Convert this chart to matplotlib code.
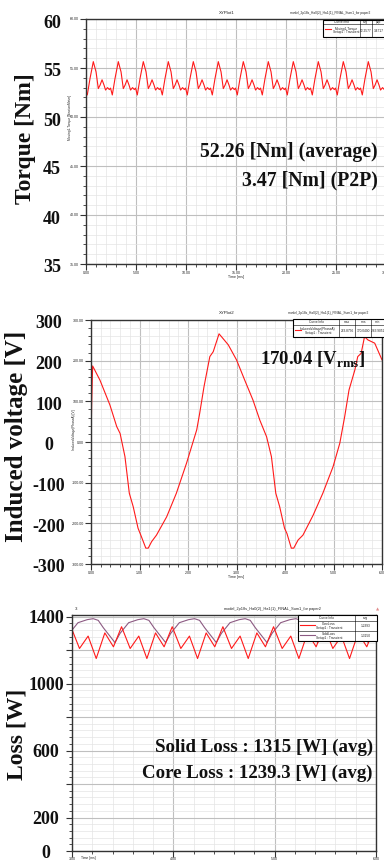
import numpy as np
import matplotlib
matplotlib.use('Agg')
import matplotlib.pyplot as plt
from matplotlib.ticker import MultipleLocator, FormatStrFormatter
from matplotlib.patches import Rectangle
from matplotlib.lines import Line2D

plt.rcParams['mathtext.fontset'] = 'custom'
plt.rcParams['mathtext.rm'] = 'Liberation Serif:bold'
plt.rcParams['mathtext.bf'] = 'Liberation Serif:bold'

#===============================================================================
#  Data
#===============================================================================
# XYPlot1 : torque ripple, one measured period, repeated every torque_T ms
torque_phase = [0.00, 0.11, 0.24, 0.35, 0.44, 0.51, 0.59, 0.67, 0.73, 0.81, 0.88, 0.93]
torque_period = [52.25, 53.95, 55.65, 54.6, 52.9, 53.25, 53.8, 53.25, 52.75, 53.0, 52.8, 52.95]
torque_first = 52.6
torque_T = 2.5
torque_t0 = 0.13
torque_cycles = 12
torque_yticks = [35, 40, 45, 50, 55, 60]
torque_xticks = [0, 5, 10, 15, 20, 25, 30]

# XYPlot2 : induced voltage (phase A)
volt_t = [0.0, 0.014, 0.034, 0.185, 0.39, 0.53, 0.60, 0.70, 0.79, 0.87, 0.97, 1.04, 1.13, 1.18,
          1.25, 1.35, 1.56, 1.76, 1.97, 2.18, 2.24, 2.33, 2.45, 2.52, 2.64, 2.69, 2.83, 3.0,
          3.17, 3.34, 3.48, 3.62, 3.72, 3.81, 3.89, 3.99, 4.04, 4.13, 4.18, 4.27, 4.37, 4.58,
          4.78, 4.99, 5.13, 5.23, 5.32, 5.44, 5.50, 5.57, 5.64, 5.71, 5.85, 6.0]
volt_v = [0, 95, 187, 152, 91, 38, 21, -36, -126, -159, -212, -233, -261, -261,
          -245, -229, -184, -126, -52, 30, 70, 136, 210, 222, 266, 259, 239, 202,
          152, 103, 54, 13, -36, -126, -159, -212, -225, -261, -261, -241, -229, -180,
          -126, -61, -3, 62, 128, 177, 210, 218, 259, 251, 243, 202]
volt_yticks = [-300, -200, -100, 0, 100, 200, 300]
volt_xticks = [0, 1, 2, 3, 4, 5, 6]

# Loss plot : solid loss and core loss, one measured period each (loss_T ms)
loss_T = 0.5
loss_t0 = 3.424
solid_phase = [0.00, 0.10, 0.27, 0.45, 0.57, 0.67, 0.77, 0.90]
solid_period = [1245, 1300, 1364, 1382, 1388, 1378, 1334, 1284]
core_phase = [-0.03, 0.13, 0.30, 0.47, 0.63, 0.80]
core_period = [1220, 1340, 1210, 1284, 1150, 1303]
loss_yticks = [0, 200, 400, 600, 800, 1000, 1200, 1400]
loss_ylabels = ['0', '200', '', '600', '', '1000', '', '1400']
loss_xticks = [3, 4, 5, 6]


def repeat_period(t0, T, phase, vals, cycles):
    t = (t0 + (np.arange(cycles)[:, None] + np.array(phase)[None, :]) * T).ravel()
    return t, np.tile(vals, cycles)


torque_t, torque_y = repeat_period(torque_t0, torque_T, torque_phase, torque_period, torque_cycles)
torque_t = np.concatenate([[0.0], torque_t])
torque_y = np.concatenate([[torque_first], torque_y])
solid_t, solid_y = repeat_period(loss_t0 - loss_T, loss_T, solid_phase, solid_period, 8)
core_t, core_y = repeat_period(loss_t0 - loss_T, loss_T, core_phase, core_period, 8)

RED = '#ff1a1a'
PURPLE = '#8c5a82'
BIG = dict(family='Liberation Serif', weight='bold', color='#111111')
TINY = dict(family='Liberation Sans', color='#222222')

#===============================================================================
#  Helpers
#===============================================================================
W, H = 384, 860
fig = plt.figure(figsize=(W / 100, H / 100), dpi=100)


def px_axes(x0, y0, x1, y1):
    return fig.add_axes([x0 / W, 1 - y1 / H, (x1 - x0) / W, (y1 - y0) / H])


def ansys_style(ax, xmaj, xmin, ymaj, ymin, fmt_x, fmt_y, show_y=True, xpad=1):
    ax.xaxis.set_major_locator(MultipleLocator(xmaj))
    ax.xaxis.set_minor_locator(MultipleLocator(xmin))
    ax.yaxis.set_major_locator(MultipleLocator(ymaj))
    ax.yaxis.set_minor_locator(MultipleLocator(ymin))
    ax.xaxis.set_major_formatter(FormatStrFormatter(fmt_x))
    ax.yaxis.set_major_formatter(FormatStrFormatter(fmt_y))
    ax.grid(which='major', color='#bfbfbf', lw=0.8)
    ax.grid(which='minor', color='#e4e4e4', lw=0.5)
    ax.set_axisbelow(True)
    ax.tick_params(which='major', direction='out', length=4, width=0.8, color='#333333',
                   labelsize=2.6, pad=1, labelleft=show_y, labelcolor='#222222')
    ax.tick_params(axis='x', which='major', pad=xpad)
    ax.tick_params(which='minor', direction='out', length=2, width=0.6, color='#333333')
    for s in ax.spines.values():
        s.set_color('#333333')
        s.set_linewidth(1.0)
    for lbl in ax.get_xticklabels() + ax.get_yticklabels():
        lbl.set_family('Liberation Sans')


def legend_box(ax, x0, x1, y0, y1, col_splits, row_splits, texts, lines):
    ax.add_patch(Rectangle((x0, y0), x1 - x0, y1 - y0, transform=ax.transAxes,
                           facecolor='white', edgecolor='black', lw=0.8, clip_on=False, zorder=5))
    for c in col_splits:
        ax.add_line(Line2D([c, c], [y0, y1], transform=ax.transAxes, color='black', lw=0.4,
                           clip_on=False, zorder=6))
    for r in row_splits:
        ax.add_line(Line2D([x0, x1], [r, r], transform=ax.transAxes, color='black', lw=0.4,
                           clip_on=False, zorder=6))
    for x, y, s in texts:
        ax.text(x, y, s, transform=ax.transAxes, fontsize=2.3, ha='center', va='center',
                zorder=7, linespacing=0.9, **TINY)
    for xa, xb, y, c in lines:
        ax.add_line(Line2D([xa, xb], [y, y], transform=ax.transAxes, color=c, lw=0.8,
                           clip_on=False, zorder=7))


def big_ticks(ax, values, labels, dx, dy=-4):
    for v, s in zip(values, labels):
        if s:
            ax.annotate(s, xy=(0, v), xycoords=('axes fraction', 'data'), xytext=(dx, dy),
                        textcoords='offset pixels', ha='center', va='center', fontsize=13,
                        annotation_clip=False, **BIG)


#===============================================================================
#  Torque
#===============================================================================
ax1 = px_axes(86, 19, 386, 264)
ax1.plot(torque_t, torque_y, color=RED, lw=0.8)
ax1.set_xlim(0, 30)
ax1.set_ylim(35, 60)
ansys_style(ax1, 5, 1, 5, 1, '%.2f', '%.2f')
big_ticks(ax1, torque_yticks, [str(v) for v in torque_yticks], -34)
ax1.text(-0.20, 0.51, 'Torque [Nm]', rotation=90, transform=ax1.transAxes, ha='center',
         va='center', fontsize=17, **BIG)
ax1.text(-0.055, 0.6, 'Moving1.Torque [NewtonMeter]', rotation=90, transform=ax1.transAxes,
         ha='center', va='center', fontsize=2.3, **TINY)
ax1.text(0.5, -0.045, 'Time [ms]', transform=ax1.transAxes, ha='center', va='top', fontsize=2.6, **TINY)
ax1.text(0.47, 1.025, 'XYPlot1', transform=ax1.transAxes, ha='center', va='center', fontsize=3.2, **TINY)
ax1.text(0.68, 1.025, 'model_2p18s_Ha0(2)_Ha1(1)_FINAL_Sum1_for paper2', transform=ax1.transAxes,
         ha='left', va='center', fontsize=2.3, **TINY)
legend_box(ax1, 0.79, 1.03, 0.927, 0.997, [0.913, 0.953], [0.978],
           [(0.851, 0.988, 'Curve Info'), (0.933, 0.988, 'avg'), (0.975, 0.988, 'p2p'),
            (0.868, 0.953, 'Moving1.Torque\nSetup1 : Transient'), (0.933, 0.953, '52.2577'),
            (0.975, 0.953, '3.4717')],
           [(0.797, 0.815, 0.958, RED)])
ax1.text(0.973, 0.437, '52.26 [Nm] (average)', transform=ax1.transAxes, ha='right',
         va='baseline', fontsize=14.2, **BIG)
ax1.text(0.973, 0.322, '3.47 [Nm] (P2P)', transform=ax1.transAxes, ha='right',
         va='baseline', fontsize=14.2, **BIG)

#===============================================================================
#  Induced voltage
#===============================================================================
ax2 = px_axes(91, 320, 382, 564)
ax2.plot(volt_t, volt_v, color=RED, lw=0.8)
ax2.set_xlim(0, 6)
ax2.set_ylim(-300, 300)
ansys_style(ax2, 1, 0.2, 100, 20, '%.2f', '%.2f')
big_ticks(ax2, volt_yticks, [str(v) for v in volt_yticks], -42)
ax2.text(-0.255, 0.525, 'Induced voltage [V]', rotation=90, transform=ax2.transAxes,
         ha='center', va='center', fontsize=18, **BIG)
ax2.text(-0.06, 0.55, 'InducedVoltage(PhaseA) [V]', rotation=90, transform=ax2.transAxes,
         ha='center', va='center', fontsize=2.3, **TINY)
ax2.text(0.5, -0.045, 'Time [ms]', transform=ax2.transAxes, ha='center', va='top', fontsize=2.6, **TINY)
ax2.text(0.467, 1.028, 'XYPlot2', transform=ax2.transAxes, ha='center', va='center', fontsize=3.2, **TINY)
ax2.text(0.677, 1.028, 'model_2p18s_Ha0(2)_Ha1(1)_FINAL_Sum1_for paper2', transform=ax2.transAxes,
         ha='left', va='center', fontsize=2.3, **TINY)
legend_box(ax2, 0.694, 1.01, 0.93, 1.004, [0.852, 0.907, 0.962], [0.978],
           [(0.773, 0.991, 'Curve Info'), (0.880, 0.991, 'max'), (0.935, 0.991, 'rms'),
            (0.986, 0.991, 'min'),
            (0.78, 0.955, 'InducedVoltage(PhaseA)\nSetup1 : Transient'), (0.880, 0.955, '263.8756'),
            (0.935, 0.955, '170.0400'), (0.986, 0.955, '-263.9052')],
           [(0.70, 0.72, 0.96, RED)])
ax2.text(0.942, 0.816, r'170.04 [$\mathrm{V}_{\mathrm{rms}}$]', transform=ax2.transAxes,
         ha='right', va='baseline', fontsize=13.5, **BIG)

#===============================================================================
#  Losses
#===============================================================================
ax3 = px_axes(72, 615, 376, 851)
ax3.plot(solid_t, solid_y, color=PURPLE, lw=0.8)
ax3.plot(core_t, core_y, color=RED, lw=0.8)
ax3.set_xlim(3, 6)
ax3.set_ylim(0, 1410)
ansys_style(ax3, 1, 0.2, 200, 40, '%.2f', '%.0f', show_y=False, xpad=0.3)
big_ticks(ax3, loss_yticks, loss_ylabels, -26, dy=-2)
ax3.text(-0.182, 0.496, 'Loss [W]', rotation=90, transform=ax3.transAxes,
         ha='center', va='center', fontsize=17, **BIG)
ax3.text(0.03, -0.022, 'Time [ms]', transform=ax3.transAxes, ha='left', va='top', fontsize=2.4, **TINY)
ax3.text(0.01, 1.025, '3', transform=ax3.transAxes, ha='left', va='center', fontsize=3.2, **TINY)
ax3.text(0.66, 1.025, 'model_2p18s_Ha0(2)_Ha1(1)_FINAL_Sum1_for paper2', transform=ax3.transAxes,
         ha='center', va='center', fontsize=2.8, **TINY)
ax3.text(1.005, 1.025, '\u25b2', transform=ax3.transAxes, ha='center', va='center', fontsize=3,
         color='#e08a8a')
legend_box(ax3, 0.743, 1.003, 0.89, 1.0, [0.931], [0.975, 0.932],
           [(0.837, 0.987, 'Curve Info'), (0.967, 0.987, 'avg'),
            (0.845, 0.953, 'CoreLoss\nSetup1 : Transient'), (0.967, 0.953, '1.2393'),
            (0.845, 0.911, 'SolidLoss\nSetup1 : Transient'), (0.967, 0.911, '1.3150')],
           [(0.75, 0.80, 0.958, RED), (0.75, 0.80, 0.916, PURPLE)])
ax3.text(0.99, 0.419, 'Solid Loss : 1315 [W] (avg)', transform=ax3.transAxes, ha='right',
         va='baseline', fontsize=13.6, **BIG)
ax3.text(0.99, 0.309, 'Core Loss : 1239.3 [W] (avg)', transform=ax3.transAxes, ha='right',
         va='baseline', fontsize=13.6, **BIG)

fig.savefig('out.png', dpi=100)
